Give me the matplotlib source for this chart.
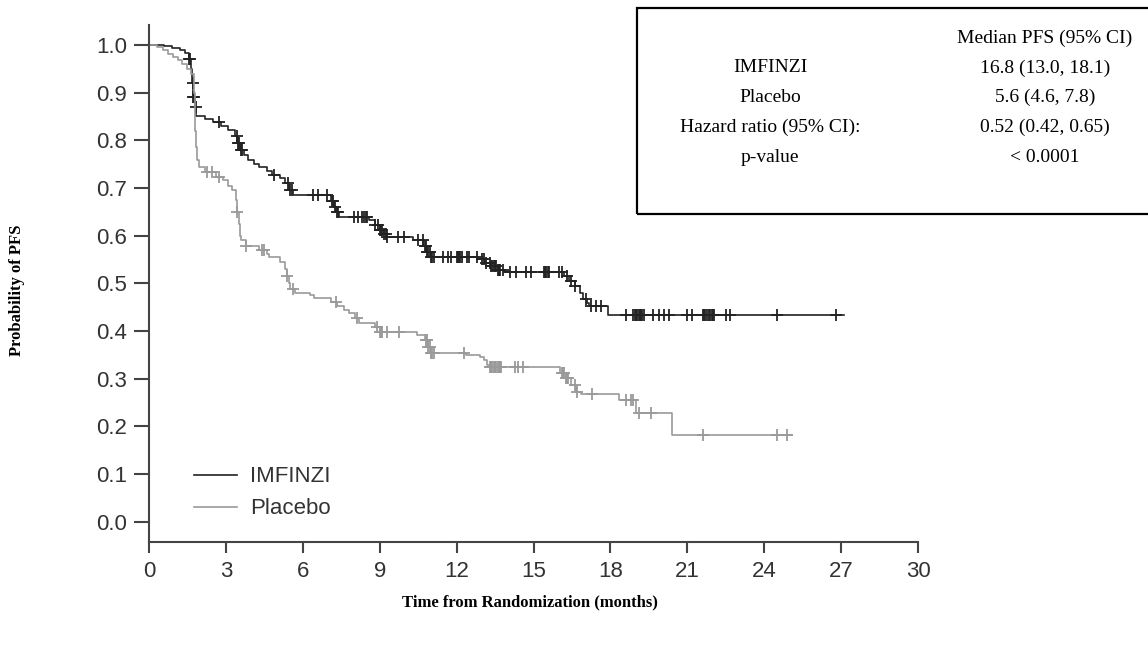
import numpy as np
import matplotlib
matplotlib.use("Agg")
import matplotlib.pyplot as plt
from matplotlib.patches import Rectangle

# Kaplan-Meier steps: (time in months, survival after step)
imf_t = [0, 0.6, 0.9, 1.2, 1.4, 1.55, 1.62, 1.68, 1.72, 1.78, 1.85, 2.2, 2.5, 2.8, 3.1,
         3.35, 3.45, 3.55, 3.7, 3.85, 4.1, 4.3, 4.6, 4.8, 5.1, 5.3, 5.45, 5.6, 7.1, 7.2,
         7.3, 7.4, 8.6, 8.8, 9.0, 9.15, 9.3, 10.3, 10.7, 10.85, 11.0, 12.85, 13.1, 13.35,
         13.6, 13.85, 16.2, 16.4, 16.6, 16.8, 16.95, 17.1, 17.15, 17.9, 27.1]
imf_s = [1.0, 0.997, 0.993, 0.99, 0.983, 0.97, 0.95, 0.92, 0.89, 0.87, 0.85, 0.845, 0.838,
         0.83, 0.822, 0.81, 0.795, 0.78, 0.77, 0.758, 0.75, 0.745, 0.735, 0.727, 0.72, 0.71,
         0.696, 0.685, 0.672, 0.66, 0.65, 0.64, 0.632, 0.622, 0.612, 0.604, 0.598, 0.591,
         0.578, 0.566, 0.556, 0.55, 0.543, 0.536, 0.528, 0.524, 0.515, 0.505, 0.494, 0.48,
         0.468, 0.458, 0.452, 0.434, 0.434]
imf_cens = [1.56, 1.58, 1.7, 1.73, 1.76, 1.84, 2.73, 3.42, 3.47, 3.52, 3.58, 3.62, 4.88,
            5.42, 5.5, 5.58, 6.4, 6.6, 6.95, 7.12, 7.18, 7.25, 7.32, 7.38, 8.0, 8.15, 8.3,
            8.4, 8.45, 8.5, 8.8, 8.92, 9.0, 9.05, 9.1, 9.18, 9.25, 9.3, 9.7, 9.95, 10.5,
            10.68, 10.75, 10.8, 10.85, 10.9, 10.95, 11.0, 11.05, 11.1, 11.45, 11.65, 11.8,
            12.0, 12.05, 12.1, 12.15, 12.2, 12.4, 12.5, 12.8, 13.0, 13.05, 13.15, 13.3,
            13.35, 13.4, 13.45, 13.5, 13.55, 13.6, 13.65, 13.7, 13.8, 14.1, 14.3, 14.7,
            14.9, 15.4, 15.45, 15.5, 15.55, 15.6, 16.0, 16.1, 16.3, 16.45, 16.6, 17.05,
            17.25, 17.45, 17.65, 18.6, 18.9, 18.95, 19.0, 19.05, 19.1, 19.15, 19.2, 19.25,
            19.3, 19.65, 19.9, 20.1, 20.3, 21.0, 21.2, 21.6, 21.65, 21.7, 21.75, 21.85,
            21.9, 21.95, 22.0, 22.05, 22.5, 22.65, 24.5, 26.8]

pla_t = [0, 0.3, 0.55, 0.75, 0.95, 1.15, 1.3, 1.5, 1.65, 1.75, 1.78, 1.8, 1.83, 1.88,
         1.95, 2.2, 2.6, 2.9, 3.1, 3.25, 3.4, 3.45, 3.5, 3.55, 3.6, 3.8, 4.3, 4.6, 4.7,
         5.1, 5.3, 5.4, 5.47, 5.5, 5.7, 6.3, 6.45, 7.1, 7.35, 7.6, 7.8, 8.05, 8.2, 8.8,
         9.0, 10.45, 10.75, 10.9, 11.0, 12.35, 12.9, 13.05, 13.2, 13.3, 16.05, 16.25,
         16.45, 16.65, 16.85, 18.35, 19.0, 20.4, 25.1]
pla_s = [1.0, 0.996, 0.99, 0.982, 0.975, 0.968, 0.96, 0.95, 0.94, 0.9, 0.86, 0.82, 0.786,
         0.758, 0.745, 0.733, 0.724, 0.716, 0.705, 0.696, 0.675, 0.65, 0.625, 0.6, 0.59,
         0.578, 0.57, 0.562, 0.555, 0.545, 0.53, 0.515, 0.5, 0.488, 0.48, 0.475, 0.469,
         0.461, 0.452, 0.444, 0.437, 0.428, 0.417, 0.409, 0.398, 0.392, 0.381, 0.367,
         0.354, 0.35, 0.346, 0.339, 0.329, 0.325, 0.312, 0.301, 0.287, 0.272, 0.267,
         0.255, 0.228, 0.182, 0.182]
pla_cens = [2.27, 2.47, 2.73, 3.45, 3.8, 4.4, 4.5, 5.4, 5.6, 7.3, 8.1, 8.9, 9.0, 9.05,
            9.1, 9.3, 9.77, 10.8, 10.85, 10.9, 10.95, 11.0, 11.05, 11.1, 12.3, 13.3, 13.35,
            13.4, 13.45, 13.5, 13.55, 13.6, 13.65, 13.7, 13.75, 14.26, 14.4, 14.6, 16.1,
            16.15, 16.2, 16.25, 16.3, 16.35, 16.6, 16.7, 17.3, 18.6, 18.8, 18.9, 19.1,
            19.6, 21.6, 24.5, 24.9]

x_ticks = np.arange(0, 31, 3)
y_ticks = np.arange(0, 1.01, 0.1)

table_left = ["IMFINZI", "Placebo", "Hazard ratio (95% CI):", "p-value"]
table_right = ["16.8 (13.0, 18.1)", "5.6 (4.6, 7.8)", "0.52 (0.42, 0.65)", "< 0.0001"]

sans = ["Liberation Sans", "DejaVu Sans"]
serif = ["Liberation Serif", "DejaVu Serif"]
tick_col = "#333333"


def step_value(t, s, x):
    idx = np.searchsorted(t, x, side="right") - 1
    return np.asarray(s)[idx]


fig = plt.figure(figsize=(11.48, 6.48), dpi=100)
ax = fig.add_axes([149 / 1148, 1 - 542 / 648, (918 - 149) / 1148, (542 - 25) / 648])

for t, s, cens, col, lab in [(imf_t, imf_s, imf_cens, "#222222", "IMFINZI"),
                             (pla_t, pla_s, pla_cens, "#9a9a9a", "Placebo")]:
    ax.plot(t, s, drawstyle="steps-post", color=col, lw=1.2, label=lab)
    ax.plot(cens, step_value(t, s, cens), ls="none", marker="+", ms=9, mew=1.3, color=col)

ax.set_xlim(0, 30)
ax.set_ylim(-0.043, 1.042)
ax.set_xticks(x_ticks)
ax.set_yticks(y_ticks)
ax.set_yticklabels([f"{v:.1f}" for v in y_ticks])
for side in ["top", "right"]:
    ax.spines[side].set_visible(False)
for side in ["left", "bottom"]:
    ax.spines[side].set_color("#444444")
    ax.spines[side].set_linewidth(1.5)
ax.tick_params(axis="y", length=11, width=1.5, color="#444444", pad=5)
ax.tick_params(axis="x", length=8, width=1.5, color="#444444", pad=6)
for lbl in ax.get_xticklabels() + ax.get_yticklabels():
    lbl.set_family(sans)
    lbl.set_fontsize(16)
    lbl.set_color(tick_col)

leg = ax.legend(loc="lower left", bbox_to_anchor=(0.033, 0.005), frameon=False,
                handlelength=1.9, handletextpad=0.6, labelspacing=0.5,
                prop={"family": sans, "size": 16})
for txt in leg.get_texts():
    txt.set_color(tick_col)

fig.text(17 / 1148, 1 - 290 / 648, "Probability of PFS", rotation=90, ha="center",
         va="center", family=serif, weight="bold", fontsize=12)
fig.text(530 / 1148, 1 - 602 / 648, "Time from Randomization (months)", ha="center",
         va="center", family=serif, weight="bold", fontsize=12)

# summary box in the top right corner
fig.patches.append(Rectangle((637 / 1148, 1 - 214 / 648), 520 / 1148, 206 / 648,
                             transform=fig.transFigure, fill=False, lw=1.6,
                             edgecolor="black"))
fig.text(1045 / 1148, 1 - 38 / 648, "Median PFS (95% CI)", ha="center", va="center",
         family=serif, fontsize=14)
row_y = [68, 97, 127, 157]
for lab, val, y in zip(table_left, table_right, row_y):
    fig.text(770 / 1148, 1 - y / 648, lab, ha="center", va="center", family=serif,
             fontsize=14)
    fig.text(1045 / 1148, 1 - y / 648, val, ha="center", va="center", family=serif,
             fontsize=14)

fig.savefig("out.png", dpi=100)
